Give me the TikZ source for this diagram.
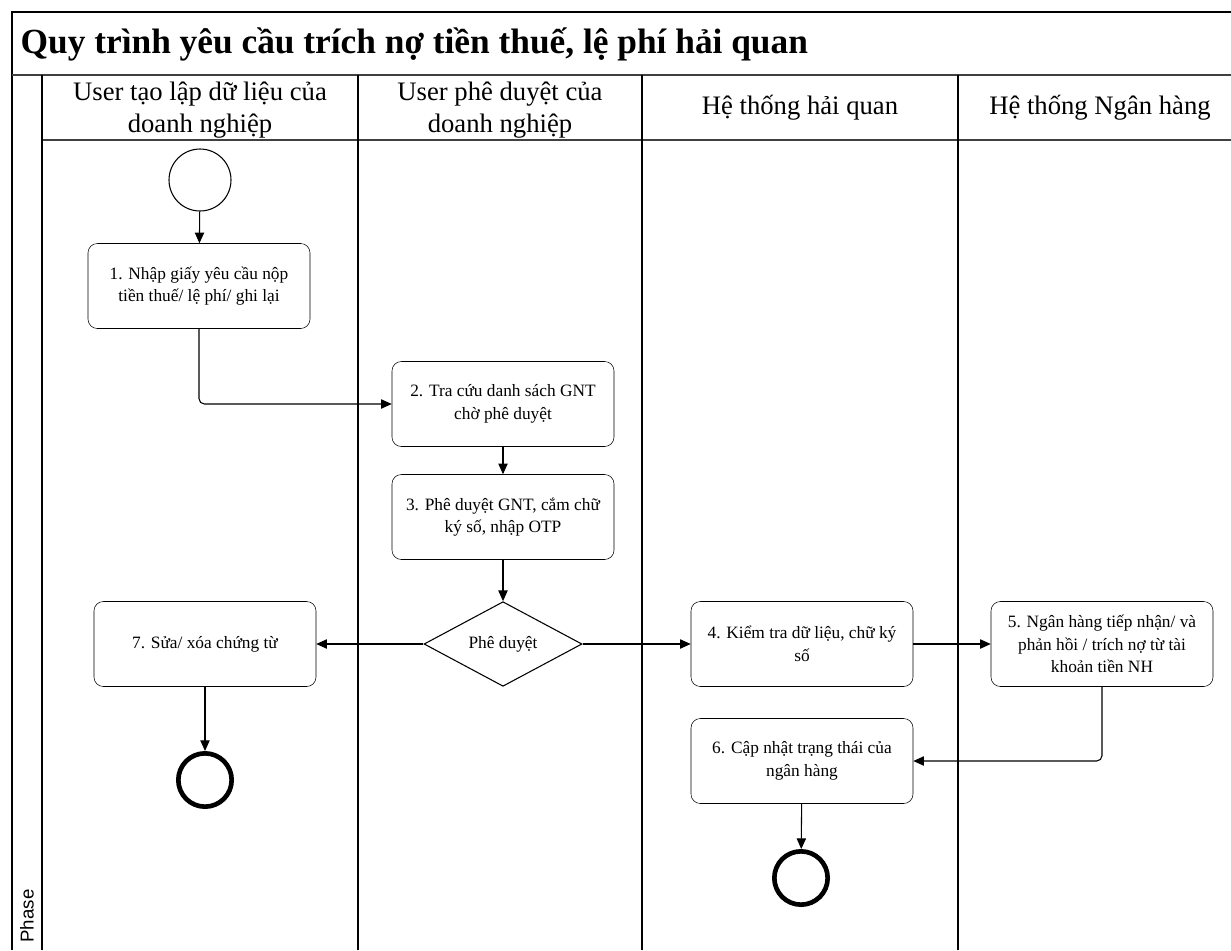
\documentclass[tikz,border=0pt]{standalone}
\usepackage{fontspec}
\setmainfont{Liberation Serif}
\setsansfont{Liberation Sans}
\usetikzlibrary{shapes.geometric,arrows.meta}

\tikzset{
  stepbox/.style={draw, rounded corners=7pt, minimum width=166.5pt, minimum height=63.75pt,
    align=center, font=\fontsize{13}{17}\selectfont, inner sep=2pt},
  lane/.style={line width=1pt},
  band/.style={line width=1.6pt, black!75},
  flow/.style={-{Triangle[length=8pt,width=7pt]}, line width=0.8pt},
  startev/.style={draw, circle, minimum size=46.5pt, line width=0.8pt},
  endev/.style={draw, circle, minimum size=40pt, line width=3.5pt},
  head/.style={align=center, font=\fontsize{20}{24}\selectfont}
}

\begin{document}
\begin{tikzpicture}[x=0.75pt,y=-0.75pt]
\useasboundingbox (0,0) rectangle (1231,950);

% pool frame
\draw[lane] (12,950) -- (12,12) -- (1231,12);
\draw[band] (12,75) -- (1231,75);
\draw[band] (42,140) -- (1231,140);
\draw[lane] (42,75) -- (42,950);
\draw[lane] (358,75) -- (358,950);
\draw[lane] (642,75) -- (642,950);
\draw[lane] (958,75) -- (958,950);

\node[anchor=west, font=\fontsize{26.5}{30}\selectfont\bfseries] (title) at (16,44) {Quy trình yêu cầu trích nợ tiền thuế, lệ phí hải quan};
\node[rotate=90, font=\sffamily\fontsize{14}{16}\selectfont] (phase) at (27,916) {Phase};

% lane headers
\node[head] (h1) at (200,110) {User tạo lập dữ liệu của\\doanh nghiệp};
\node[head] (h2) at (500,110) {User phê duyệt của\\doanh nghiệp};
\node[head] (h3) at (800,108) {Hệ thống hải quan};
\node[head] (h4) at (1100,108) {Hệ thống Ngân hàng};

% events and tasks
\node[startev] (start) at (200,180) {};
\node[stepbox] (s1) at (199,286) {1. Nhập giấy yêu cầu nộp\\tiền thuế/ lệ phí/ ghi lại};
\node[stepbox] (s2) at (503,404) {2. Tra cứu danh sách GNT\\chờ phê duyệt};
\node[stepbox] (s3) at (503,517) {3. Phê duyệt GNT, cắm chữ\\ký số, nhập OTP};
\node[draw, diamond, minimum width=118.5pt, minimum height=63pt, inner sep=0pt,
  line width=0.8pt, font=\fontsize{13}{17}\selectfont] (dec) at (503,644) {Phê duyệt};
\node[stepbox] (s7) at (205,644) {7. Sửa/ xóa chứng từ};
\node[stepbox] (s4) at (802,644) {4. Kiểm tra dữ liệu, chữ ký\\số};
\node[stepbox] (s5) at (1102,644) {5. Ngân hàng tiếp nhận/ và\\phản hồi / trích nợ từ tài\\khoản tiền NH};
\node[stepbox] (s6) at (802,761) {6. Cập nhật trạng thái của\\ngân hàng};
\node[endev] (end1) at (205,780) {};
\node[endev] (end2) at (801,878) {};

% connectors
\draw[flow] (start) -- (s1);
\draw[flow, rounded corners=4pt] (s1.south) |- (s2.west);
\draw[flow] (s2) -- (s3);
\draw[flow] (s3) -- (dec);
\draw[flow] (dec) -- (s7);
\draw[flow] (dec) -- (s4);
\draw[flow] (s4) -- (s5);
\draw[flow, rounded corners=4pt] (s5.south) |- (s6.east);
\draw[flow] (s7) -- (end1);
\draw[flow] (s6) -- (end2);
\end{tikzpicture}
\end{document}
